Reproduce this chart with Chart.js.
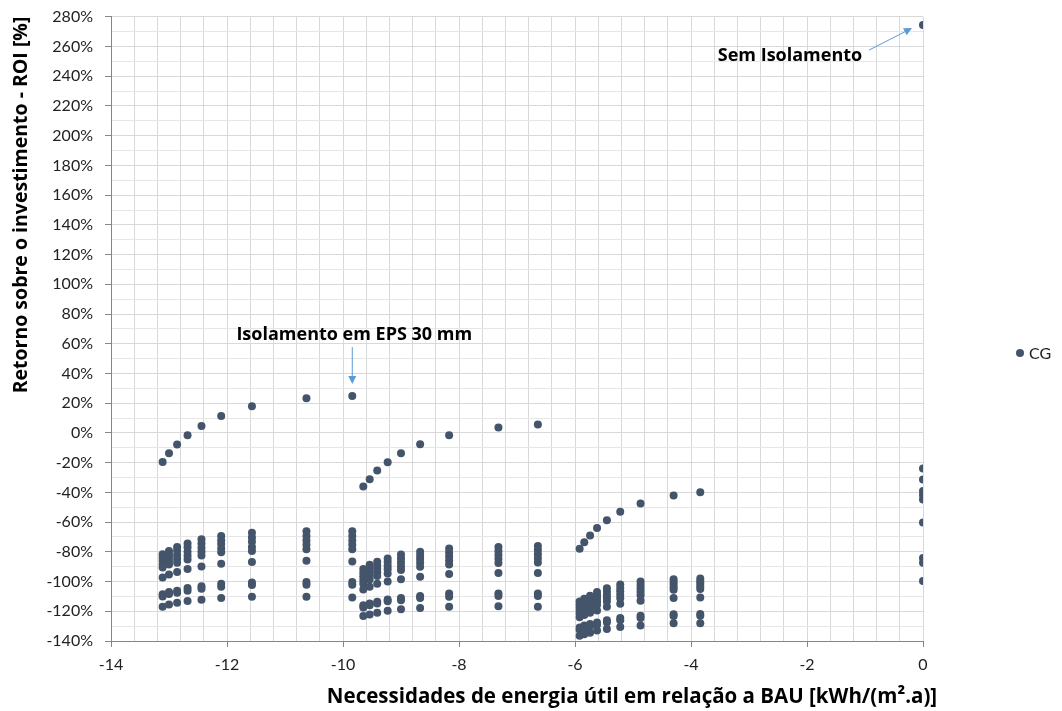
<!DOCTYPE html>
<html>
<head>
<meta charset="utf-8">
<script src="https://cdn.jsdelivr.net/npm/chart.js@4.4.1/dist/chart.umd.min.js"></script>
<style>
  body { margin: 0; background: #fff; }
  #wrap { width: 1062px; height: 711px; }
</style>
</head>
<body>
<div id="wrap"><canvas id="chart0" width="1062" height="711"></canvas></div>
<script>
// energy need vs BAU (kWh/(m2.a)) for each solution family
const colX = [-13.11, -13.0, -12.86, -12.68, -12.44, -12.1, -11.57, -10.63, -9.84,
  -9.65, -9.54, -9.41, -9.23, -9.0, -8.67, -8.17, -7.32, -6.64,
  -5.92, -5.84, -5.74, -5.62, -5.45, -5.22, -4.87, -4.30, -3.84,
  0];

// best ROI (%) in each column
const topRoi = [-19.5, -13.7, -7.8, -1.6, 4.7, 11.4, 17.9, 23.3, 24.8,
  -36.1, -31.2, -25.3, -19.7, -13.7, -7.6, -1.6, 3.6, 5.6,
  -78, -73.5, -69, -63.9, -58.7, -53.1, -47.5, -42.1, -39.9,
  274.4];

// remaining ROI (%) values in each column
const lowRoi = [
  [-81.6, -83.8, -86, -88.3, -90.5, -97.2, -108.6, -110, -117],
  [-79.5, -81.8, -84, -86.3, -88.5, -95.2, -107.1, -108.4, -115.4],
  [-76.7, -79.3, -82.2, -84.9, -87.4, -93.5, -106.2, -107.6, -114.3],
  [-74.4, -77, -80, -82.7, -85.1, -91.6, -104.4, -106.2, -113.1],
  [-71.5, -74.4, -77.3, -80, -82.4, -89.8, -103.1, -104.9, -112.3],
  [-69.3, -72.2, -74.8, -77.7, -80.2, -88.1, -101.5, -103.5, -111.1],
  [-67.2, -70.3, -73.3, -76.7, -79.4, -86.8, -100.7, -102.4, -110.3],
  [-66.1, -69.3, -72.4, -75.3, -78.2, -86, -100.3, -102.1, -110.3],
  [-66.1, -69.3, -72.4, -75.3, -78.2, -86.5, -100.3, -102.1, -110.7],
  [-91.6, -94.1, -96.5, -99, -101.5, -105.3, -116, -117.4, -123.2],
  [-88.7, -91.2, -93.7, -96.1, -98.6, -103.5, -114.7, -116, -122.1],
  [-86.7, -89.2, -91.4, -93.7, -96.3, -101.5, -113.6, -114.7, -121],
  [-84.5, -86.9, -89.4, -91.8, -94.5, -99.9, -112, -113.3, -119.7],
  [-81.8, -84.5, -87.1, -89.8, -92.3, -98.4, -111.1, -112.5, -118.7],
  [-80, -82.4, -84.9, -87.4, -90.1, -96.8, -109.8, -111.1, -117.8],
  [-77.7, -80.4, -83.1, -85.8, -88.5, -95, -108, -110.2, -117],
  [-76.7, -79.4, -82.1, -84.8, -87.5, -94.3, -108, -109.8, -116.7],
  [-76, -78.8, -81.6, -84.4, -87.2, -94.3, -108, -109.8, -117],
  [-113.5, -115.5, -117.5, -119.5, -121.5, -124, -131, -132.5, -136.5],
  [-111.5, -113.5, -115.5, -117.5, -119.5, -122.5, -129.5, -131, -135.5],
  [-109.5, -111.5, -113.5, -115.5, -117.5, -121, -128.5, -130, -134.5],
  [-107, -109.2, -111.4, -113.6, -115.8, -119.5, -127.5, -129, -133],
  [-104.5, -106.8, -109, -111.3, -113.5, -117, -126, -127.5, -132],
  [-102, -104.3, -106.6, -108.9, -111.2, -115, -124.5, -126, -130.5],
  [-100, -102.3, -104.6, -106.9, -109.2, -113, -123, -124.5, -129.5],
  [-98.5, -100.3, -102, -103.8, -105.5, -111, -122, -123.2, -128],
  [-98, -99.8, -101.5, -103.3, -105, -110.7, -121.9, -123, -128],
  [-24, -31.4, -39, -41.7, -44.8, -60.3, -84.2, -87.4, -99.7]
];

const seriesName = "CG";
const xTitle = "Necessidades de energia útil em relação a BAU [kWh/(m².a)]";
const yTitle = "Retorno sobre o investimento - ROI [%]";
const noteNone = { label: "Sem Isolamento", x: 0, y: 274.4 };
const noteEps = { label: "Isolamento em EPS 30 mm", x: -9.84, y: 24.8 };

const points = [];
colX.forEach((x, i) => {
  points.push({ x: x, y: topRoi[i] });
  lowRoi[i].forEach(v => points.push({ x: x, y: v }));
});

const dotColor = "#44546a";
const arrowColor = "#5b9bd5";
const FONT = "Lato, 'Open Sans', sans-serif";
const BOLD = "'Open Sans', Lato, sans-serif";

function isMult(v, step) {
  const r = v / step;
  return Math.abs(r - Math.round(r)) < 1e-6;
}

function arrow(ctx, x0, y0, x1, y1) {
  const a = Math.atan2(y1 - y0, x1 - x0);
  ctx.save();
  ctx.strokeStyle = arrowColor;
  ctx.fillStyle = arrowColor;
  ctx.lineWidth = 1;
  ctx.beginPath();
  ctx.moveTo(x0, y0);
  ctx.lineTo(x1 - 6 * Math.cos(a), y1 - 6 * Math.sin(a));
  ctx.stroke();
  ctx.beginPath();
  ctx.moveTo(x1, y1);
  ctx.lineTo(x1 - 8 * Math.cos(a) + 4 * Math.sin(a), y1 - 8 * Math.sin(a) - 4 * Math.cos(a));
  ctx.lineTo(x1 - 8 * Math.cos(a) - 4 * Math.sin(a), y1 - 8 * Math.sin(a) + 4 * Math.cos(a));
  ctx.closePath();
  ctx.fill();
  ctx.restore();
}

// axis titles, legend and the two call-outs
const extras = {
  id: "extras",
  afterDatasetsDraw(chart) {
    const { ctx, scales: { x, y } } = chart;
    ctx.save();
    ctx.fillStyle = "#000";
    ctx.font = "bold 18px " + BOLD;
    ctx.textAlign = "center";
    ctx.textBaseline = "middle";

    const p1x = x.getPixelForValue(noteNone.x), p1y = y.getPixelForValue(noteNone.y);
    arrow(ctx, p1x - 54, p1y + 25, p1x - 11, p1y + 3);
    ctx.fillText(noteNone.label, p1x - 133, p1y + 31);

    const p2x = x.getPixelForValue(noteEps.x), p2y = y.getPixelForValue(noteEps.y);
    arrow(ctx, p2x, p2y - 49, p2x, p2y - 12);
    ctx.fillText(noteEps.label, p2x + 2, p2y - 61);

    // axis titles
    ctx.font = "bold 20.5px " + BOLD;
    ctx.fillText(xTitle, 632, 697);
    ctx.save();
    ctx.font = "bold 19.5px " + BOLD;
    ctx.translate(21, 205);
    ctx.rotate(-Math.PI / 2);
    ctx.fillText(yTitle, 0, 0);
    ctx.restore();

    // legend
    ctx.fillStyle = dotColor;
    ctx.beginPath();
    ctx.arc(1020, 353, 4, 0, Math.PI * 2);
    ctx.fill();
    ctx.fillStyle = "#222";
    ctx.font = "16px " + FONT;
    ctx.textAlign = "left";
    ctx.fillText(seriesName, 1029, 354);
    ctx.restore();
  }
};

const ctx = document.getElementById("chart0").getContext("2d");
const myChart = new Chart(ctx, {
  type: "scatter",
  data: {
    datasets: [{
      label: seriesName,
      data: points,
      backgroundColor: dotColor,
      borderColor: dotColor,
      borderWidth: 0,
      pointRadius: 4,
      pointHoverRadius: 4
    }]
  },
  options: {
    responsive: false,
    animation: false,
    layout: { padding: { left: 0, right: 139, top: 16, bottom: 0 } },
    plugins: { legend: { display: false }, tooltip: { enabled: false } },
    scales: {
      x: {
        type: "linear",
        min: -14,
        max: 0,
        afterFit(scale) { scale.height = 70; },
        afterBuildTicks(scale) {
          const t = [];
          for (let k = 0; k <= 35; k++) t.push({ value: -14 + k * 0.4 });
          scale.ticks = t;
        },
        ticks: {
          color: "#222",
          font: { family: FONT, size: 16 },
          padding: 8,
          maxRotation: 0,
          autoSkip: false,
          callback: v => isMult(v, 2) ? String(Math.round(v)) : ""
        },
        grid: {
          color: "#d9d9d9",
          tickLength: 6,
          tickColor: c => isMult(c.tick.value, 2) ? "#868686" : "rgba(0,0,0,0)"
        },
        border: { color: "#868686", width: 1 }
      },
      y: {
        min: -140,
        max: 280,
        afterFit(scale) { scale.width = 111; },
        ticks: {
          stepSize: 10,
          color: "#222",
          font: { family: FONT, size: 16, lineHeight: 0.6 },
          padding: 12,
          autoSkip: false,
          callback: v => isMult(v, 20) ? Math.round(v) + "%" : ""
        },
        grid: {
          color: c => isMult(c.tick.value, 20) ? "#d9d9d9" : "#e6e6e6",
          tickLength: 6,
          tickColor: c => isMult(c.tick.value, 20) ? "#868686" : "rgba(0,0,0,0)"
        },
        border: { color: "#868686", width: 1 }
      }
    }
  },
  plugins: [extras]
});
</script>
</body>
</html>
